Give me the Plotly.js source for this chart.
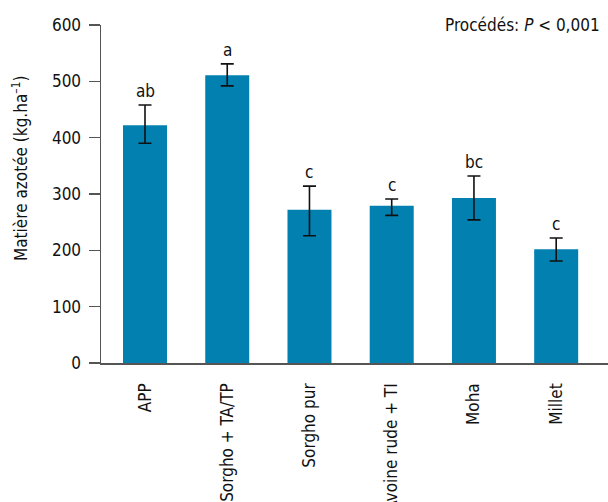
<!DOCTYPE html>
<html>
<head>
<meta charset="utf-8">
<script src="https://cdn.plot.ly/plotly-3.0.1.min.js"></script>
<style>html,body{margin:0;padding:0;background:#fff}#chart{width:608px;height:502px}</style>
</head>
<body>
<div id="chart"></div>
<script>
var categories = ["APP", "Sorgho + TA/TP", "Sorgho pur", "Avoine rude + TI", "Moha", "Millet"];
var values = [422, 511, 272, 279, 293, 202];
var errPlus = [36, 20, 42, 12, 39, 20];
var errMinus = [32, 19, 46, 17, 39, 21];
var letters = ["ab", "a", "c", "c", "bc", "c"];
var yTicks = [0, 100, 200, 300, 400, 500, 600];

var FONT = "'Liberation Sans Narrow', 'DejaVu Sans Condensed', 'Open Sans', sans-serif";

var trace = {
  type: "bar",
  x: categories,
  y: values,
  marker: {color: "#0280b0"},
  error_y: {type: "data", symmetric: false, array: errPlus, arrayminus: errMinus,
            color: "#111", thickness: 1.6, width: 6.5},
  hoverinfo: "none"
};

var annotations = categories.map(function (c, i) {
  return {x: c, y: values[i] + errPlus[i], xref: "x", yref: "y", text: letters[i],
          showarrow: false, yanchor: "bottom", yshift: 2,
          font: {family: FONT, size: 17, color: "#111"}};
});
annotations.push({xref: "paper", yref: "paper", x: 1, y: 1, xanchor: "right", yanchor: "middle",
  text: "Procédés: <i>P</i> < 0,001", showarrow: false, xshift: -6, yshift: 0,
  font: {family: FONT, size: 17, color: "#111"}});
annotations.push({xref: "paper", yref: "paper", x: 0, y: 0.5, xanchor: "center", yanchor: "middle",
  xshift: -81, yshift: 25, textangle: -90, showarrow: false,
  text: "Matière azotée (kg.ha<sup>–1</sup>)",
  font: {family: FONT, size: 17, color: "#111"}});

var layout = {
  width: 608, height: 502,
  margin: {l: 101, r: 0, t: 25, b: 139, pad: 0},
  paper_bgcolor: "#fff", plot_bgcolor: "#fff",
  showlegend: false,
  bargap: 0.465,
  font: {family: FONT, size: 17, color: "#111"},
  xaxis: {type: "category", range: [-0.535, 5.63], showline: true, linecolor: "#555", linewidth: 1.5,
          ticks: "", tickangle: -90, showgrid: false, zeroline: false,
          tickfont: {family: FONT, size: 17, color: "#111"}, ticklabelstandoff: 12},
  yaxis: {range: [0, 600], tickvals: yTicks, ticktext: yTicks.map(String), showline: true,
          linecolor: "#555", linewidth: 1.5, ticks: "outside", ticklen: 11, tickwidth: 1.5,
          tickcolor: "#555", showgrid: false, zeroline: false,
          tickfont: {family: FONT, size: 17, color: "#111"}, ticklabelstandoff: 4},
  annotations: annotations
};

Plotly.newPlot("chart", [trace], layout, {displayModeBar: false, staticPlot: true});
</script>
</body>
</html>
